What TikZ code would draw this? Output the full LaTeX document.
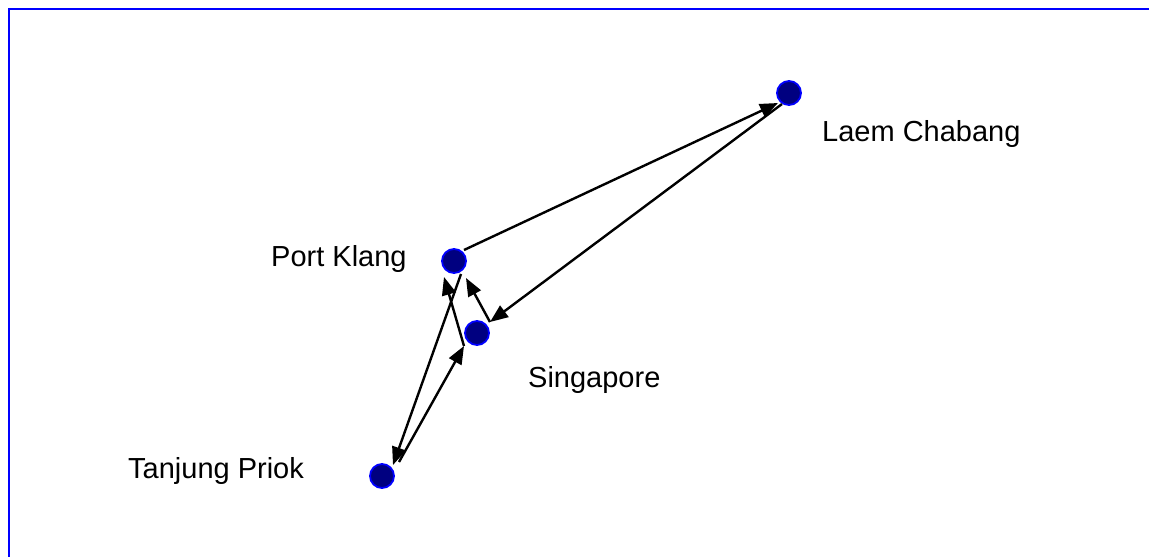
\documentclass[tikz,border=0pt]{standalone}
\usepackage{fontspec}
\setmainfont{Liberation Sans}
\usetikzlibrary{arrows.meta}
\definecolor{portfill}{RGB}{0,0,128}
\definecolor{portedge}{RGB}{0,0,255}
\begin{document}
\begin{tikzpicture}[x=1pt,y=-1pt,
  port/.style={circle,fill=portfill,draw=portedge,line width=1.8pt,minimum size=24pt,inner sep=0pt},
  lbl/.style={anchor=base west,inner sep=0pt,font=\fontsize{29}{34}\selectfont},
  route/.style={draw=black,line width=2.4pt,-{Triangle[length=18pt,width=14pt]}}]
\useasboundingbox (0,0) rectangle (1149,557);
% frame (top and left edges)
\draw[portedge,line width=2.6pt] (9,557) -- (9,9) -- (1149,9);
% ports
\node[port] (lc) at (789,93) {};
\node[port] (pk) at (454,261) {};
\node[port] (sg) at (477,333) {};
\node[port] (tp) at (382,476) {};
% labels
\node[lbl] (lcl) at (822,141) {Laem Chabang};
\node[lbl] (pkl) at (271,266) {Port Klang};
\node[lbl] (sgl) at (528,387) {Singapore};
\node[lbl] (tpl) at (128,478) {Tanjung Priok};
% route end points
\coordinate (pkA) at (464,250);
\coordinate (lcA) at (778,103);
\coordinate (lcB) at (782,104);
\coordinate (sgB) at (490,322);
\coordinate (pkC) at (466,278);
\coordinate (pkD) at (461,274);
\coordinate (tpD) at (393,465);
\coordinate (tpE) at (399,462);
\coordinate (sgE) at (464,346);
\coordinate (pkF) at (444,277);
% routes
\draw[route] (pkA) -- (lcA);
\draw[route] (lcB) -- (sgB);
\draw[route] (sgB) -- (pkC);
\draw[route] (pkD) -- (tpD);
\draw[route] (tpE) -- (sgE);
\draw[route] (sgE) -- (pkF);
\end{tikzpicture}
\end{document}
